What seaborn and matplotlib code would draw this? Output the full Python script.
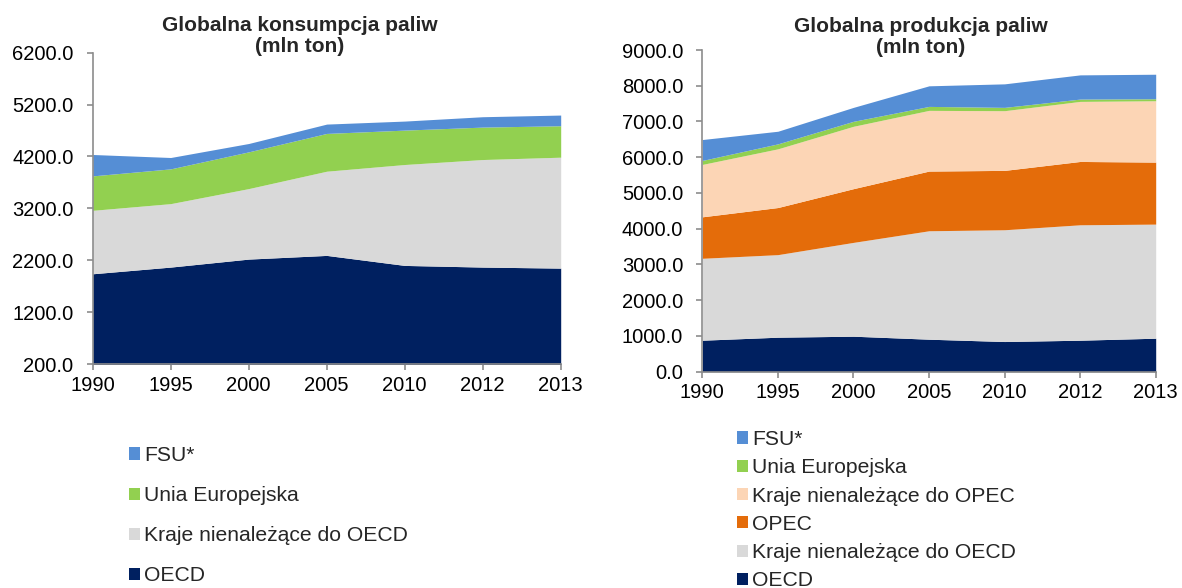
import numpy as np
import pandas as pd
import matplotlib
matplotlib.use("Agg")
import matplotlib.pyplot as plt
from matplotlib.patches import Patch
from matplotlib.ticker import FormatStrFormatter
import seaborn as sns

years = ["1990", "1995", "2000", "2005", "2010", "2012", "2013"]

# Consumption (mln ton)
cons_oecd = [1939, 2068, 2222, 2293, 2100, 2068, 2048]
cons_non_oecd = [1223, 1223, 1359, 1623, 1945, 2073, 2138]
cons_eu = [664, 670, 708, 728, 663, 625, 606]
cons_fsu = [412, 219, 161, 180, 174, 200, 206]

# Production (mln ton)
prod_oecd = [881, 965, 993, 909, 844, 881, 937]
prod_non_oecd = [2292, 2310, 2625, 3034, 3127, 3229, 3192]
prod_opec = [1160, 1318, 1503, 1670, 1661, 1772, 1735]
prod_non_opec = [1466, 1642, 1745, 1698, 1670, 1680, 1716]
prod_eu = [111, 139, 139, 111, 93, 65, 56]
prod_fsu = [585, 353, 390, 576, 658, 677, 686]

lab_fsu = "FSU*"
lab_eu = "Unia Europejska"
lab_non_opec = "Kraje nienależące do OPEC"
lab_opec = "OPEC"
lab_non_oecd = "Kraje nienależące do OECD"
lab_oecd = "OECD"

c_fsu = "#558ED5"
c_eu = "#92D050"
c_non_opec = "#FCD5B5"
c_opec = "#E46C0A"
c_non_oecd = "#D9D9D9"
c_oecd = "#002060"

sns.set_theme(style="white")
plt.rcParams['font.family'] = ['Liberation Sans', 'DejaVu Sans']

cons = pd.DataFrame({lab_oecd: cons_oecd, lab_non_oecd: cons_non_oecd,
                     lab_eu: cons_eu, lab_fsu: cons_fsu}, index=years)
prod = pd.DataFrame({lab_oecd: prod_oecd, lab_non_oecd: prod_non_oecd,
                     lab_opec: prod_opec, lab_non_opec: prod_non_opec,
                     lab_eu: prod_eu, lab_fsu: prod_fsu}, index=years)

W, H = 1182, 588
fig = plt.figure(figsize=(W / 100, H / 100), dpi=100)
axL = fig.add_axes([92.7 / W, 1 - 364 / H, 468 / W, 311.3 / H])
axR = fig.add_axes([702.3 / W, 1 - 371.7 / H, 453.4 / W, 321.7 / H])

def style(ax, ymin, ymax):
    ax.set_xlim(0, len(years) - 1)
    ax.set_ylim(ymin, ymax)
    ax.set_yticks(np.arange(ymin, ymax + 1, 1000))
    ax.yaxis.set_major_formatter(FormatStrFormatter("%.1f"))
    ax.set_xticks(range(len(years)))
    ax.set_xticklabels(years)
    sns.despine(ax=ax)
    for s in ["left", "bottom"]:
        ax.spines[s].set_color("#8c8c8c")
        ax.spines[s].set_linewidth(1.2)
    ax.tick_params(axis="both", which="major", direction="out", length=4.3,
                   width=1.2, color="#8c8c8c", labelsize=14.5, labelcolor="black",
                   left=True, bottom=True)
    ax.tick_params(axis="y", pad=9.5)
    ax.tick_params(axis="x", pad=4)
    ax.set_facecolor("white")

x = np.arange(len(years))
axL.stackplot(x, cons.T.values, colors=[c_oecd, c_non_oecd, c_eu, c_fsu], linewidth=0)
style(axL, 200, 6200)

axR.stackplot(x, prod.T.values,
              colors=[c_oecd, c_non_oecd, c_opec, c_non_opec, c_eu, c_fsu], linewidth=0)
style(axR, 0, 9000)

fig.text(300 / W, 1 - 36.3 / H, "Globalna konsumpcja paliw\n(mln ton)",
         ha="center", va="center", fontsize=15, fontweight="bold", linespacing=1.12)
fig.text(921 / W, 1 - 37.2 / H, "Globalna produkcja paliw\n(mln ton)",
         ha="center", va="center", fontsize=15, fontweight="bold", linespacing=1.12)

def handles(labels, colors):
    return [Patch(facecolor=c, edgecolor="none", label=l) for l, c in zip(labels, colors)]

hl = handles([lab_fsu, lab_eu, lab_non_oecd, lab_oecd], [c_fsu, c_eu, c_non_oecd, c_oecd])
fig.legend(handles=hl, loc="upper left", bbox_to_anchor=(129 / W, 1 - 446 / H),
           frameon=False, fontsize=15.2, handlelength=0.5, handleheight=0.5,
           handletextpad=0.2, labelspacing=1.0, borderpad=0, borderaxespad=0)

hr = handles([lab_fsu, lab_eu, lab_non_opec, lab_opec, lab_non_oecd, lab_oecd],
             [c_fsu, c_eu, c_non_opec, c_opec, c_non_oecd, c_oecd])
fig.legend(handles=hr, loc="upper left", bbox_to_anchor=(737 / W, 1 - 430 / H),
           frameon=False, fontsize=15.2, handlelength=0.5, handleheight=0.5,
           handletextpad=0.2, labelspacing=0.44, borderpad=0, borderaxespad=0)

fig.savefig("out.png", dpi=100, facecolor="white")
